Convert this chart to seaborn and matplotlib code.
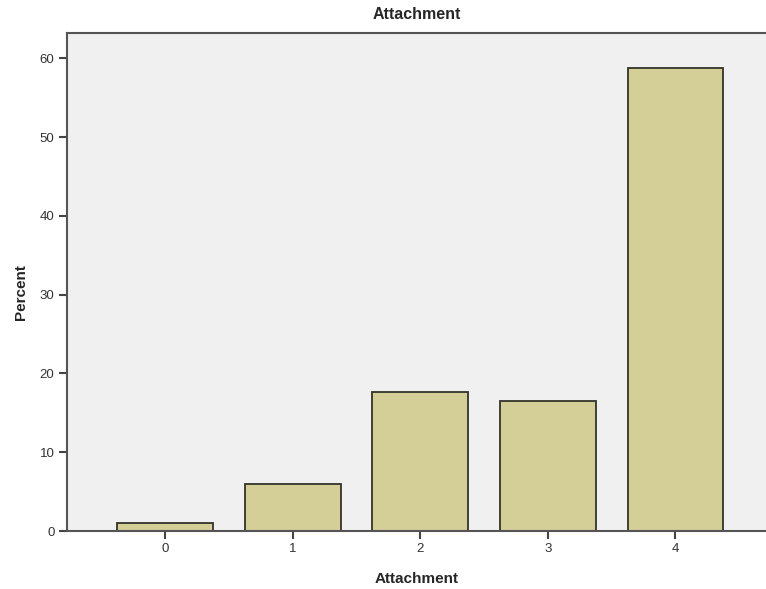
import matplotlib
matplotlib.use('Agg')
import matplotlib.pyplot as plt
import seaborn as sns
import pandas as pd

# Values
categories = ['0', '1', '2', '3', '4']
percent = [1.0, 6.0, 17.6, 16.5, 58.8]

df = pd.DataFrame({'Attachment': categories, 'Percent': percent})

sns.set_style('white')
plt.rcParams['font.family'] = ['Liberation Sans', 'DejaVu Sans']

fig = plt.figure(figsize=(7.66, 5.89), dpi=100)
ax = fig.add_axes([67 / 766, 1 - 531 / 589, 1 - 67 / 766, (531 - 33) / 589])
ax.set_facecolor('#F0F0F0')

sns.barplot(data=df, x='Attachment', y='Percent', color='#D3CF97',
            edgecolor='#33332a', linewidth=1.3, width=0.75, saturation=1, ax=ax)

ax.set_xlim(-0.77, 4.71)
ax.set_ylim(0, 63.2)
ax.set_yticks([0, 10, 20, 30, 40, 50, 60])

for side in ['left', 'bottom', 'top']:
    ax.spines[side].set_color('#555555')
    ax.spines[side].set_linewidth(1.5)
ax.spines['right'].set_visible(False)

ax.tick_params(axis='both', direction='out', length=6, width=1.5, color='#444444',
               labelsize=9.5, labelcolor='#333333', pad=3)
ax.tick_params(axis='y', left=True)
ax.tick_params(axis='x', bottom=True)

ax.set_xlabel('Attachment', fontsize=11, fontweight='bold', labelpad=12)
ax.set_ylabel('Percent', fontsize=11, fontweight='bold', labelpad=8)
ax.yaxis.set_label_coords(-0.056, 0.48)
ax.set_title('Attachment', fontsize=11.5, fontweight='bold', pad=10)

fig.savefig('out.png', dpi=100)
